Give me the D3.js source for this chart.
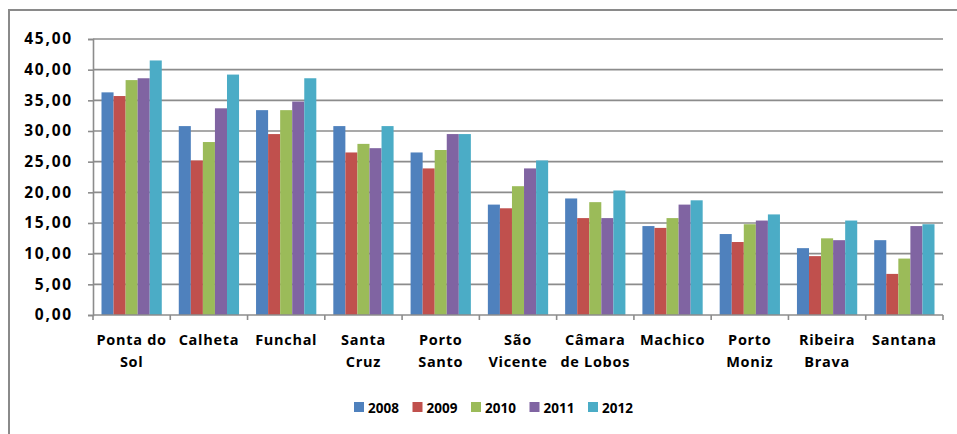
<!DOCTYPE html>
<html>
<head>
<meta charset="utf-8">
<script src="https://cdn.jsdelivr.net/npm/d3@7.9.0/dist/d3.min.js"></script>
<style>
  body { margin: 0; background: #fff; }
  svg { display: block; font-family: 'Open Sans', sans-serif; font-weight: 700; }
</style>
</head>
<body>
<svg id="chart" width="957" height="434"></svg>
<script>
const categories = ['Ponta do\nSol', 'Calheta', 'Funchal', 'Santa\nCruz', 'Porto\nSanto', 'São\nVicente',
  'Câmara\nde Lobos', 'Machico', 'Porto\nMoniz', 'Ribeira\nBrava', 'Santana'];
const years = ['2008', '2009', '2010', '2011', '2012'];
const v2008 = [36.3, 30.8, 33.4, 30.8, 26.5, 18.0, 19.0, 14.5, 13.2, 10.9, 12.2];
const v2009 = [35.7, 25.2, 29.5, 26.5, 23.9, 17.4, 15.8, 14.2, 11.9, 9.6, 6.7];
const v2010 = [38.3, 28.2, 33.4, 27.9, 26.9, 21.0, 18.4, 15.8, 14.8, 12.5, 9.2];
const v2011 = [38.6, 33.7, 34.8, 27.2, 29.5, 23.9, 15.8, 18.0, 15.4, 12.2, 14.5];
const v2012 = [41.5, 39.2, 38.6, 30.8, 29.5, 25.2, 20.3, 18.7, 16.4, 15.4, 14.8];
const yTicks = [0, 5, 10, 15, 20, 25, 30, 35, 40, 45];
const colors = ['#4f81bd', '#c0504d', '#9bbb59', '#8064a2', '#4bacc6'];

const series = [v2008, v2009, v2010, v2011, v2012];
const svg = d3.select('#chart');

// outer frame (runs off the bottom/right of the picture)
svg.append('rect')
  .attr('x', 9).attr('y', 10).attr('width', 1100).attr('height', 600)
  .attr('fill', 'none').attr('stroke', '#8a8a8a').attr('stroke-width', 2);

const plotLeft = 93, plotRight = 943, plotTop = 39, plotBottom = 315;

const y = d3.scaleLinear().domain([0, 45]).range([plotBottom, plotTop]);
const x0 = d3.scaleBand().domain(categories).range([plotLeft, plotRight])
  .paddingInner(0.22).paddingOuter(0.11);
const x1 = d3.scaleBand().domain(years).range([0, x0.bandwidth()]);
const color = d3.scaleOrdinal(years, colors);

const fmt = (d) => d3.format('.2f')(d).replace('.', ',');

// gridlines
svg.append('g')
  .selectAll('line')
  .data(yTicks.filter((d) => d > 0))
  .join('line')
  .attr('x1', plotLeft).attr('x2', plotRight)
  .attr('y1', (d) => y(d)).attr('y2', (d) => y(d))
  .attr('stroke', '#8c8c8c').attr('stroke-width', 1.6);

// bars
const groups = svg.append('g')
  .selectAll('g')
  .data(categories)
  .join('g')
  .attr('transform', (d) => `translate(${x0(d)},0)`);

groups.selectAll('rect')
  .data((d, i) => years.map((yr, j) => ({ yr, value: series[j][i] })))
  .join('rect')
  .attr('x', (d) => x1(d.yr))
  .attr('width', x1.bandwidth())
  .attr('y', (d) => y(d.value))
  .attr('height', (d) => y(0) - y(d.value))
  .attr('fill', (d) => color(d.yr));

// y axis
const yAxis = svg.append('g')
  .attr('transform', `translate(${plotLeft},0)`)
  .call(d3.axisLeft(y).tickValues(yTicks).tickFormat(fmt).tickSize(5).tickPadding(15));
yAxis.select('.domain').attr('stroke', '#8c8c8c').attr('stroke-width', 1.6);
yAxis.selectAll('.tick line').attr('stroke', '#8c8c8c').attr('stroke-width', 1.6);
yAxis.selectAll('text')
  .attr('fill', '#000')
  .attr('font-size', 15.5)
  .attr('letter-spacing', 1.8)
  .attr('font-family', 'Open Sans')
  .attr('font-weight', 700);

// x axis line and boundary ticks
const xAxis = svg.append('g');
xAxis.append('line')
  .attr('x1', plotLeft).attr('x2', plotRight)
  .attr('y1', plotBottom).attr('y2', plotBottom)
  .attr('stroke', '#8c8c8c').attr('stroke-width', 1.6);
xAxis.selectAll('.bt')
  .data(d3.range(categories.length + 1))
  .join('line')
  .attr('class', 'bt')
  .attr('x1', (i) => plotLeft + i * x0.step()).attr('x2', (i) => plotLeft + i * x0.step())
  .attr('y1', plotBottom).attr('y2', plotBottom + 5)
  .attr('stroke', '#8c8c8c').attr('stroke-width', 1.6);

// category labels (two lines where needed)
const labels = svg.append('g')
  .selectAll('text')
  .data(categories)
  .join('text')
  .attr('x', (d) => x0(d) + x0.bandwidth() / 2)
  .attr('y', plotBottom + 30)
  .attr('text-anchor', 'middle')
  .attr('font-size', 14.5)
  .attr('letter-spacing', 0.7)
  .attr('fill', '#000');
labels.selectAll('tspan')
  .data((d) => d.split('\n'))
  .join('tspan')
  .attr('x', function () { return this.parentNode.getAttribute('x'); })
  .attr('dy', (d, i) => (i === 0 ? 0 : 22))
  .text((d) => d);

// legend
const lx = d3.scalePoint().domain(years).range([354, 588]);
const legend = svg.append('g')
  .selectAll('g')
  .data(years)
  .join('g')
  .attr('transform', (d) => `translate(${lx(d)},402)`);
legend.append('rect')
  .attr('width', 10).attr('height', 10)
  .attr('fill', (d) => color(d));
legend.append('text')
  .attr('x', 14).attr('y', 10.5)
  .attr('font-size', 13.5)
  .attr('fill', '#000')
  .text((d) => d);
</script>
</body>
</html>
